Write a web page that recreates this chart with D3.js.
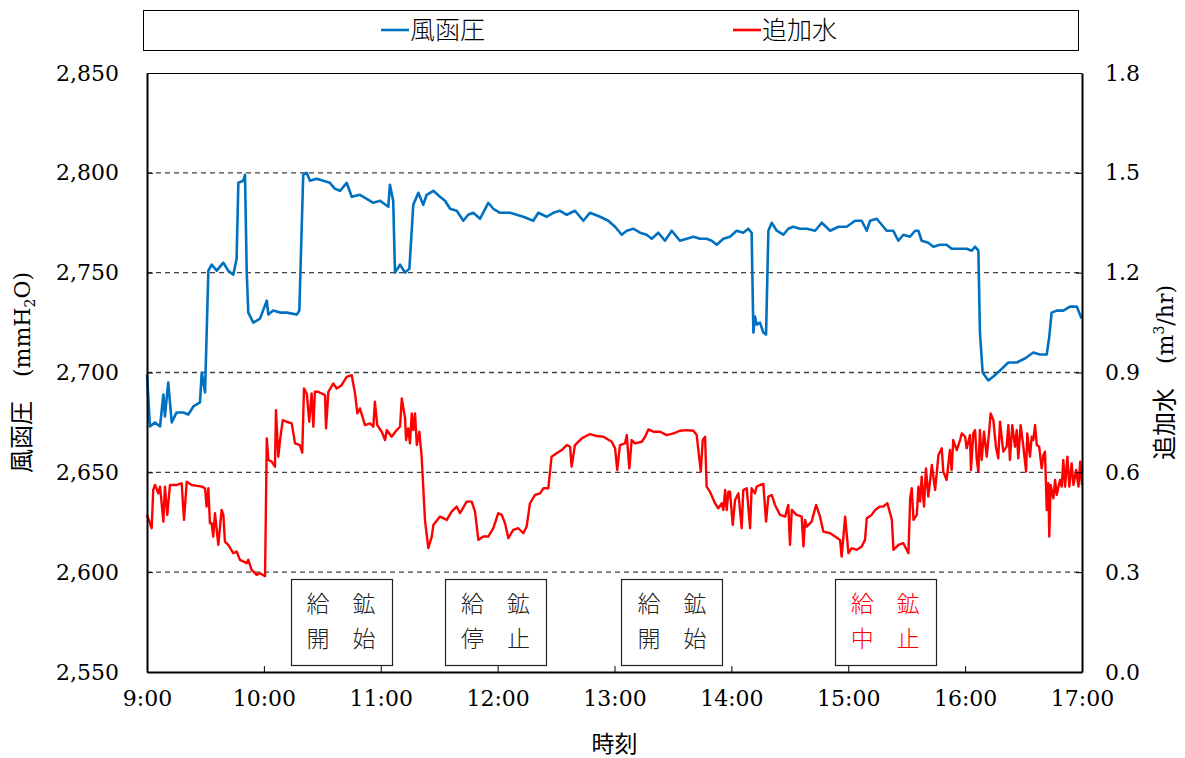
<!DOCTYPE html>
<html>
<head>
<meta charset="utf-8">
<script src="https://cdn.jsdelivr.net/npm/d3@7"></script>
<style>
  body { margin: 0; background: #fff; }
  .num { font-family: "DejaVu Serif", "Liberation Serif", serif; font-size: 22px; }
  .jp { font-family: "Noto Sans CJK JP", sans-serif; }
</style>
</head>
<body>
<svg id="chart" width="1185" height="758"></svg>
<script>
// --- Data (minutes after 9:00) ---
const pressureTime = [
  0, 1.5, 4.1, 6.7, 8.4, 9.2, 10.9, 12.7, 15.2, 18.6, 21.2, 23.8, 27.2, 28.1, 29.8,
  31.5, 33.2, 35.8, 39.2, 41.7, 44.3, 46.0, 46.9, 49.4, 50.3, 51.2, 52.0, 54.6, 58.0,
  61.5, 62.3, 64.8, 68.3, 71.7, 76.9, 78.2, 80.2, 82.0, 83.7, 87.1, 90.5, 93.9, 96.5,
  99.1, 102.5, 105.1, 109.3, 112.8, 116.2, 119.6, 123.9, 124.7, 126.4, 127.3, 129.9,
  132.5, 134.7, 136.7, 139.3, 141.8, 143.6, 147.0, 150.4, 153.0, 155.6, 159.0, 162.4,
  164.9, 167.5, 171.0, 175.2, 177.8, 181.2, 186.4, 189.8, 193.2, 198.3, 200.9, 205.2,
  208.6, 212.0, 215.5, 219.7, 224.0, 227.4, 232.6, 236.8, 240.3, 243.7, 246.3, 249.7,
  253.1, 256.5, 259.1, 262.5, 265.9, 269.4, 273.6, 277.1, 280.5, 283.9, 287.3, 289.9,
  292.5, 295.9, 299.3, 302.7, 306.1, 308.7, 310.4, 311.3, 312.1, 313.0, 314.7, 316.4,
  317.8, 319.0, 320.7, 323.3, 326.7, 329.2, 331.8, 335.2, 338.7, 343.0, 346.4, 350.7,
  355.0, 359.2, 363.5, 366.9, 369.5, 371.2, 374.6, 377.2, 379.7, 383.1, 385.7, 388.3,
  391.7, 394.3, 396.0, 397.7, 401.1, 403.7, 407.1, 410.5, 413.1, 417.4, 420.8, 423.4,
  425.1, 426.8, 427.6, 429.0, 431.9, 434.5, 437.9, 442.2, 446.5, 450.7, 455.0, 458.4,
  461.9, 463.2, 464.4, 467.0, 470.4, 473.8, 477.3, 479.8
];
const pressureValue = [
  2699, 2673, 2675, 2673, 2689, 2678, 2695, 2675, 2680, 2680, 2679, 2683, 2685, 2700, 2690,
  2751, 2754, 2751, 2755, 2751, 2749, 2757, 2795, 2796, 2799, 2750, 2730, 2725, 2727,
  2736, 2729, 2731, 2730, 2730, 2729, 2731, 2799, 2800, 2796, 2797, 2796, 2795, 2792,
  2791, 2795, 2788, 2789, 2787, 2785, 2786, 2783, 2794, 2786, 2750, 2754,
  2750, 2752, 2784, 2790, 2784, 2789, 2791, 2788, 2786, 2782, 2781, 2776,
  2779, 2780, 2777, 2785, 2782, 2780, 2780, 2779, 2778, 2776, 2780, 2778,
  2780, 2781, 2779, 2781, 2776, 2780, 2778, 2776, 2773, 2769, 2771, 2772,
  2770, 2769, 2767, 2770, 2766, 2771, 2766, 2767, 2768, 2767, 2767, 2766,
  2764, 2767, 2768, 2771, 2770, 2772, 2770, 2720, 2728, 2724, 2725, 2720,
  2719, 2771, 2775, 2771, 2769, 2772, 2773, 2772, 2772, 2771, 2775, 2771,
  2773, 2773, 2776, 2776, 2771, 2776, 2777, 2774, 2771, 2771, 2766, 2769,
  2768, 2771, 2771, 2766, 2765, 2763, 2764, 2764, 2762, 2762, 2762, 2761,
  2763, 2761, 2720, 2700, 2696, 2698, 2701, 2705, 2705, 2707, 2710, 2709,
  2709, 2718, 2730, 2731, 2731, 2733, 2733, 2727
];

const waterTime = [
  0, 2.4, 3.2, 4.1, 5.8, 6.7, 8.4, 9.2, 10.4, 11.8, 15.2, 17.8, 19.0, 20.4, 22.9, 28.1,
  29.8, 30.6, 31.5, 32.3, 33.2, 34.0, 34.9, 36.6, 38.3, 39.2, 40.0, 41.7, 44.3, 46.0,
  47.7, 51.2, 52.0, 53.7, 56.3, 58.0, 60.6, 61.5, 62.3, 64.0, 65.7, 66.2, 67.4, 68.3,
  69.7, 71.7, 74.3, 76.0, 78.5, 79.7, 80.6, 82.0, 83.3, 84.5, 85.4, 86.2, 87.9, 89.7,
  91.4, 91.9, 93.1, 95.6, 97.4, 99.9, 102.5, 105.1, 106.8, 108.0, 109.3, 111.9, 114.5,
  116.2, 117.0, 118.2, 120.5, 122.2, 123.1, 125.6, 128.2, 129.9, 130.8, 132.5, 133.0,
  134.1, 135.0, 135.9, 136.7, 137.6, 138.5, 139.8, 141.0, 142.7, 144.4, 146.2, 147.0,
  150.4, 153.9, 156.4, 159.0, 160.7, 164.1, 166.7, 168.4, 170.1, 172.6, 175.2, 177.8,
  180.3, 182.1, 183.8, 185.5, 188.0, 190.6, 193.2, 194.9, 196.6, 199.2, 201.8, 203.5,
  206.0, 207.7, 210.3, 212.9, 215.5, 217.2, 218.0, 219.7, 223.2, 227.4, 230.9, 234.3,
  238.6, 240.3, 241.4, 242.8, 245.4, 246.3, 247.6, 248.8, 250.5, 254.0, 255.7, 257.4,
  260.0, 263.4, 266.8, 270.3, 273.6, 277.1, 280.5, 282.2, 284.3, 285.3, 286.5, 287.3,
  289.0, 291.6, 293.3, 295.1, 295.9, 296.8, 297.6, 298.5, 299.3, 300.7, 301.9, 303.6,
  305.3, 306.1, 307.9, 309.6, 310.4, 312.1, 313.0, 314.7, 316.4, 317.8, 319.0, 320.7,
  322.4, 325.0, 327.6, 329.2, 330.1, 331.0, 333.5, 336.1, 337.0, 337.8, 338.7, 341.2,
  343.5, 345.5, 347.2, 350.7, 353.2, 355.8, 356.6, 358.4, 360.1, 361.8, 364.4, 366.9,
  368.6, 369.5, 372.0, 373.8, 376.3, 377.9, 380.1, 382.4, 383.2, 385.8, 388.3, 390.9,
  391.8, 392.6, 393.5, 395.2, 396.0, 396.9, 397.7, 398.9, 399.9, 401.1, 402.9, 404.6,
  406.3, 408.0, 408.8, 410.5, 412.2, 413.1, 413.9, 415.7, 417.4, 418.3, 420.0, 420.8,
  422.5, 423.0, 424.2, 425.1, 426.0, 426.8, 427.6, 428.5, 429.7, 431.1, 432.4, 433.1,
  434.5, 435.8, 437.0, 437.9, 439.6, 441.3, 442.2, 443.0, 444.2, 445.6, 446.5, 447.3,
  448.5, 449.9, 451.3, 451.9, 453.3, 454.2, 455.0, 455.9, 456.8, 458.0, 459.3, 460.2,
  461.0, 461.9, 462.7, 463.2, 463.9, 465.3, 466.2, 467.0, 468.7, 469.6, 470.4, 471.3,
  472.5, 473.5, 474.7, 475.6, 477.0, 478.2, 479.1, 480.0
];
const waterValue = [
  0.472, 0.432, 0.547, 0.562, 0.537, 0.557, 0.452, 0.557, 0.472, 0.562, 0.562, 0.567, 0.457, 0.572, 0.562, 0.557,
  0.552, 0.497, 0.552, 0.447, 0.447, 0.407, 0.477, 0.382, 0.487, 0.472, 0.392, 0.382, 0.357, 0.362,
  0.337, 0.327, 0.337, 0.307, 0.292, 0.297, 0.288, 0.702, 0.637, 0.632, 0.617, 0.787, 0.647, 0.697,
  0.757, 0.752, 0.747, 0.687, 0.682, 0.659, 0.852, 0.837, 0.752, 0.837, 0.737, 0.842, 0.842, 0.837,
  0.832, 0.732, 0.842, 0.867, 0.852, 0.862, 0.887, 0.892, 0.837, 0.777, 0.792, 0.742, 0.747,
  0.737, 0.812, 0.742, 0.722, 0.697, 0.727, 0.707, 0.727, 0.737, 0.822, 0.762, 0.697,
  0.732, 0.687, 0.777, 0.727, 0.777, 0.682, 0.722, 0.647, 0.457, 0.372, 0.407, 0.442,
  0.467, 0.457, 0.482, 0.497, 0.477, 0.512, 0.512, 0.482, 0.397, 0.407, 0.407, 0.432,
  0.477, 0.472, 0.447, 0.402, 0.427, 0.432, 0.417, 0.437, 0.507, 0.532, 0.537, 0.552,
  0.552, 0.647, 0.657, 0.667, 0.682, 0.677, 0.617, 0.682, 0.702, 0.715, 0.709, 0.707,
  0.692, 0.672, 0.607, 0.682, 0.687, 0.712, 0.612, 0.697, 0.687, 0.692, 0.707, 0.729,
  0.722, 0.722, 0.712, 0.717, 0.725, 0.727, 0.725, 0.712, 0.602, 0.697, 0.707, 0.557,
  0.542, 0.507, 0.492, 0.507, 0.487, 0.547, 0.487, 0.542, 0.542, 0.442, 0.517, 0.537,
  0.432, 0.547, 0.552, 0.432, 0.552, 0.537, 0.557, 0.562, 0.565, 0.452, 0.527, 0.532,
  0.502, 0.472, 0.467, 0.502, 0.382, 0.487, 0.472, 0.467, 0.377, 0.457, 0.437, 0.452,
  0.502, 0.467, 0.422, 0.417, 0.407, 0.397, 0.347, 0.467, 0.357, 0.372, 0.367, 0.377,
  0.397, 0.462, 0.472, 0.487, 0.497, 0.497, 0.507, 0.457, 0.367, 0.382, 0.387, 0.357,
  0.522, 0.552, 0.457, 0.472, 0.557, 0.512, 0.587, 0.497, 0.612, 0.527, 0.622, 0.547,
  0.652, 0.672, 0.602, 0.577, 0.667, 0.607, 0.697, 0.667, 0.697, 0.717, 0.707, 0.672,
  0.712, 0.607, 0.717, 0.727, 0.637, 0.602, 0.727, 0.637, 0.722, 0.647, 0.727, 0.777,
  0.757, 0.677, 0.642, 0.752, 0.662, 0.677, 0.742, 0.637, 0.742, 0.677, 0.727, 0.642,
  0.742, 0.677, 0.602, 0.717, 0.647, 0.707, 0.697, 0.742, 0.682, 0.677, 0.612, 0.652,
  0.662, 0.487, 0.567, 0.407, 0.562, 0.522, 0.577, 0.532, 0.577, 0.557, 0.637, 0.557,
  0.647, 0.557, 0.627, 0.562, 0.607, 0.557, 0.632, 0.562
];

const xTickMinutes = [0, 60, 120, 180, 240, 300, 360, 420, 480];
const xTickLabels = ["9:00", "10:00", "11:00", "12:00", "13:00", "14:00", "15:00", "16:00", "17:00"];
const leftTicks = [2550, 2600, 2650, 2700, 2750, 2800, 2850];
const rightTicks = [0, 0.3, 0.6, 0.9, 1.2, 1.5, 1.8];
const gridValues = [2600, 2650, 2700, 2750, 2800];

const seriesNames = ["風函圧", "追加水"];
const noteMinutes = [99.6, 178.9, 269.5, 379];
const noteLines = [["給　鉱", "開　始"], ["給　鉱", "停　止"], ["給　鉱", "開　始"], ["給　鉱", "中　止"]];

// --- Layout ---
const BLUE = "#0070C0", RED = "#FF0000";
const plot = { left: 147, right: 1082, top: 73, bottom: 672 };
const svg = d3.select("#chart");

const x = d3.scaleLinear().domain([0, 480]).range([plot.left, plot.right]);
const yL = d3.scaleLinear().domain([2550, 2850]).range([plot.bottom, plot.top]);
const yR = d3.scaleLinear().domain([0, 1.8]).range([plot.bottom, plot.top]);

// gridlines
svg.append("g").selectAll("line").data(gridValues).join("line")
  .attr("x1", plot.left).attr("x2", plot.right)
  .attr("y1", d => yL(d)).attr("y2", d => yL(d))
  .attr("stroke", "#404040").attr("stroke-width", 1.3).attr("stroke-dasharray", "5,4");

// series
const pLine = d3.line().x(d => x(d[0])).y(d => yL(d[1]));
const wLine = d3.line().x(d => x(d[0])).y(d => yR(d[1]));

svg.append("path").datum(d3.zip(pressureTime, pressureValue))
  .attr("d", pLine).attr("fill", "none").attr("stroke", BLUE)
  .attr("stroke-width", 2.6).attr("stroke-linejoin", "round");
svg.append("path").datum(d3.zip(waterTime, waterValue))
  .attr("d", wLine).attr("fill", "none").attr("stroke", RED)
  .attr("stroke-width", 2.4).attr("stroke-linejoin", "round");

// plot frame top
svg.append("line").attr("x1", plot.left).attr("x2", plot.right)
  .attr("y1", plot.top + 0.5).attr("y2", plot.top + 0.5).attr("stroke", "#000").attr("stroke-width", 1);

// axes (ticks inward)
const axL = svg.append("g").attr("transform", `translate(${plot.left},0)`)
  .call(d3.axisLeft(yL).tickValues(leftTicks).tickFormat(d3.format(",")).tickSizeInner(-6).tickSizeOuter(0).tickPadding(28));
const axR = svg.append("g").attr("transform", `translate(${plot.right},0)`)
  .call(d3.axisRight(yR).tickValues(rightTicks).tickFormat(d3.format(".1f")).tickSizeInner(-6).tickSizeOuter(0).tickPadding(23));
const axB = svg.append("g").attr("transform", `translate(0,${plot.bottom})`)
  .call(d3.axisBottom(x).tickValues(xTickMinutes).tickFormat((d, i) => xTickLabels[i]).tickSizeInner(-6).tickSizeOuter(0).tickPadding(22));

[axL, axR, axB].forEach(g => {
  g.select(".domain").attr("stroke", "#000").attr("stroke-width", 2);
  g.selectAll(".tick line").attr("stroke", "#000").attr("stroke-width", 1);
  g.selectAll(".tick text").attr("class", "num").attr("fill", "#000");
});
axB.selectAll(".tick text").attr("dy", "0.55em");

// axis titles
const midY = (plot.top + plot.bottom) / 2;
const leftTitle = svg.append("text").attr("class", "jp").attr("fill", "#000")
  .attr("transform", `translate(30,${midY}) rotate(-90)`)
  .attr("text-anchor", "middle").style("font-size", "24px");
leftTitle.append("tspan").text("風函圧　");
leftTitle.append("tspan").attr("class", "num").text("(mmH");
leftTitle.append("tspan").attr("class", "num").style("font-size", "14px").attr("dy", 5).text("2");
leftTitle.append("tspan").attr("class", "num").attr("dy", -5).text("O)");

const rightTitle = svg.append("text").attr("class", "jp").attr("fill", "#000")
  .attr("transform", `translate(1173,${midY}) rotate(-90)`)
  .attr("text-anchor", "middle").style("font-size", "24px");
rightTitle.append("tspan").text("追加水　");
rightTitle.append("tspan").attr("class", "num").text("(m");
rightTitle.append("tspan").attr("class", "num").style("font-size", "14px").attr("dy", -9).text("3");
rightTitle.append("tspan").attr("class", "num").attr("dy", 9).text("/hr)");

svg.append("text").attr("class", "jp").attr("fill", "#000")
  .attr("x", (plot.left + plot.right) / 2).attr("y", 744)
  .attr("dy", "0.36em").attr("text-anchor", "middle").style("font-size", "23px").text("時刻");

// legend
svg.append("rect").attr("x", 143.5).attr("y", 10.5).attr("width", 935).attr("height", 40)
  .attr("fill", "#fff").attr("stroke", "#000").attr("stroke-width", 1);
const legendX = [381, 733];
[BLUE, RED].forEach((c, i) => {
  const g = svg.append("g").attr("transform", `translate(${legendX[i]},30)`);
  g.append("line").attr("x1", 0).attr("x2", 28).attr("stroke", c).attr("stroke-width", 2.6);
  g.append("text").attr("class", "jp").attr("fill", "#000").attr("x", 29).attr("dy", "0.36em")
    .style("font-size", "25px").style("font-weight", 300).text(seriesNames[i]);
});

// annotation boxes
const BOX_W = 101, BOX_H = 86, BOX_TOP = 579;
noteMinutes.forEach((m, i) => {
  const cx = x(m);
  const col = i === 3 ? RED : "#222";
  svg.append("rect").attr("x", Math.round(cx - BOX_W / 2) + 0.5).attr("y", BOX_TOP + 0.5)
    .attr("width", BOX_W).attr("height", BOX_H)
    .attr("fill", "#fff").attr("stroke", "#222").attr("stroke-width", 1.2);
  noteLines[i].forEach((t, j) => {
    svg.append("text").attr("class", "jp").attr("x", cx).attr("y", BOX_TOP + 25 + j * 35)
      .attr("dy", "0.36em").attr("text-anchor", "middle")
      .style("font-size", "23px").style("font-weight", 300).style("fill", col).text(t);
  });
});
</script>
</body>
</html>
